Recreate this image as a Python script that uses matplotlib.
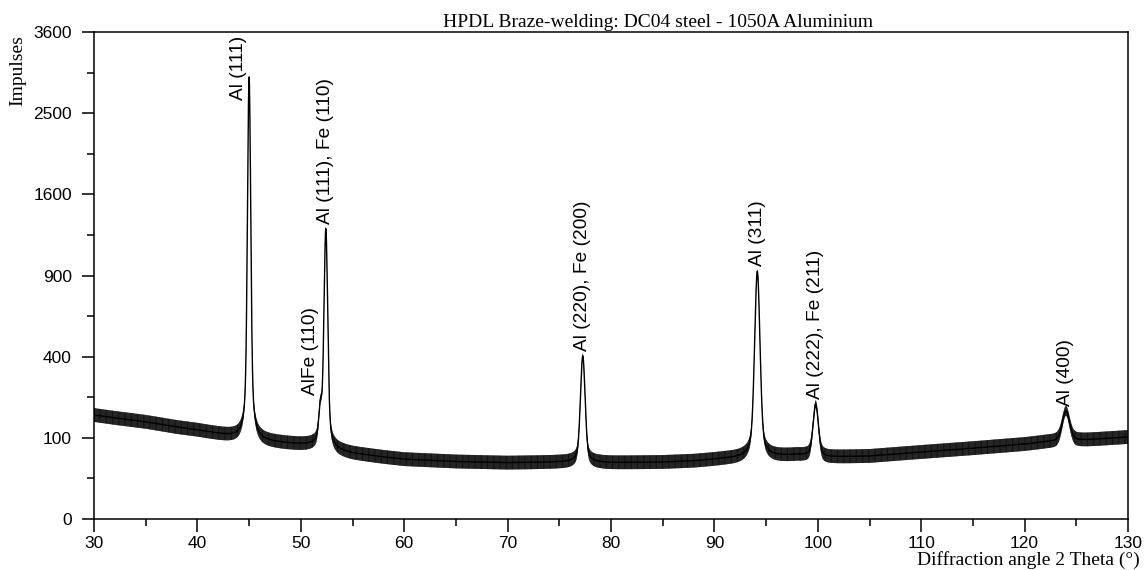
import numpy as np
import matplotlib
matplotlib.use("Agg")
import matplotlib.pyplot as plt

# ====== DATA ====================================
# background level, 2 theta (deg) -> impulses
bg_theta = [30, 32, 35, 38, 40, 42, 44, 46, 48, 50, 51.5, 53, 55, 58, 60, 65, 70, 75,
            80, 85, 88, 91, 95, 98, 101, 105, 110, 115, 120, 122, 126, 130]
bg_counts = [164, 155, 143, 128, 120, 110, 100, 92, 88, 84, 82, 72, 65, 58, 54, 50, 48, 49,
             48, 49, 51, 55, 58, 62, 58, 60, 68, 76, 85, 90, 95, 102]

# reflections
peak_theta = [45.0, 51.9, 52.42, 77.27, 94.15, 99.8, 124.0]
peak_height = [2870, 95, 1200, 355, 875, 140, 85]
peak_fwhm = [0.30, 0.35, 0.35, 0.45, 0.50, 0.55, 0.80]
peak_labels = ["Al (111)", "AlFe (110)", "Al (111), Fe (110)", "Al (220), Fe (200)",
               "Al (311)", "Al (222), Fe (211)", "Al (400)"]

noise_halfwidth = 0.85   # scatter of the counts, in sqrt(impulses)

y_ticks = [0, 100, 400, 900, 1600, 2500, 3600]
y_minor = [25, 225, 625, 1225, 2025, 3025]
x_ticks = [30, 40, 50, 60, 70, 80, 90, 100, 110, 120, 130]

# ====== BUILD PROFILE =======
theta = np.arange(30, 130.0001, 0.01)
bg = np.interp(theta, bg_theta, bg_counts)
peaks = np.zeros_like(theta)
eta = 0.35
for c, h, w in zip(peak_theta, peak_height, peak_fwhm):
    d = (theta - c) / (w / 2)
    peaks += h * (eta / (1 + d ** 2) + (1 - eta) * np.exp(-np.log(2) * d ** 2))
counts = bg + peaks

s = np.sqrt(counts)
wband = noise_halfwidth * np.sqrt(bg / counts)
upper = (s + wband) ** 2
lower = np.clip(s - wband, 0, None) ** 2

# ====== PLOT =======
plt.rcParams['font.family'] = ['Liberation Sans', 'DejaVu Sans']
plt.rcParams['hatch.linewidth'] = 0.7
fig = plt.figure(figsize=(11.45, 5.70), dpi=100)
ax = fig.add_axes([94 / 1145, 51 / 570, 1034 / 1145, 487 / 570])

ax.set_yscale('function', functions=(lambda y: np.sqrt(np.clip(y, 0, None)), np.square))
# scatter band of the counts
ax.fill_between(theta, lower, upper, facecolor='#6e6e6e', edgecolor='#111111',
                hatch='|' * 14, lw=0)
ax.plot(theta, counts, color='black', lw=1.0)

ax.set_xlim(30, 130)
ax.set_ylim(0, 3600)
ax.set_yticks(y_ticks)
ax.set_yticks(y_minor, minor=True)
ax.set_xticks(x_ticks)
ax.set_xticks(np.arange(35, 130, 10), minor=True)

ax.tick_params(axis='both', which='major', direction='out', length=9, width=1.1,
               labelsize=12.5)
ax.tick_params(axis='y', which='major', pad=7)
ax.tick_params(axis='x', which='major', pad=3)
ax.tick_params(axis='both', which='minor', direction='out', length=5, width=1.1)
for sp in ax.spines.values():
    sp.set_linewidth(1.1)

# peak labels
offsets = {0: (-11, -23), 1: (-10, 4)}
for i, (c, lab) in enumerate(zip(peak_theta, peak_labels)):
    ytop = counts[np.argmin(np.abs(theta - c))]
    dx, dy = offsets.get(i, (0, 5))
    ax.annotate(lab, (c, ytop), xytext=(dx, dy), textcoords='offset pixels',
                rotation=90, ha='center', va='bottom', fontsize=13.8)

serif = ['Liberation Serif', 'DejaVu Serif']
fig.text(658 / 1145, 543 / 570, "HPDL Braze-welding: DC04 steel - 1050A Aluminium",
         ha='center', va='baseline', fontsize=14, family=serif)
fig.text(18 / 1145, 535 / 570, "Impulses", rotation=90, ha='center', va='top',
         fontsize=14, family=serif)
fig.text(1140 / 1145, 10 / 570, "Diffraction angle 2 Theta (°)", ha='right',
         va='center', fontsize=14, family=serif)

fig.savefig("out.png", dpi=100)
